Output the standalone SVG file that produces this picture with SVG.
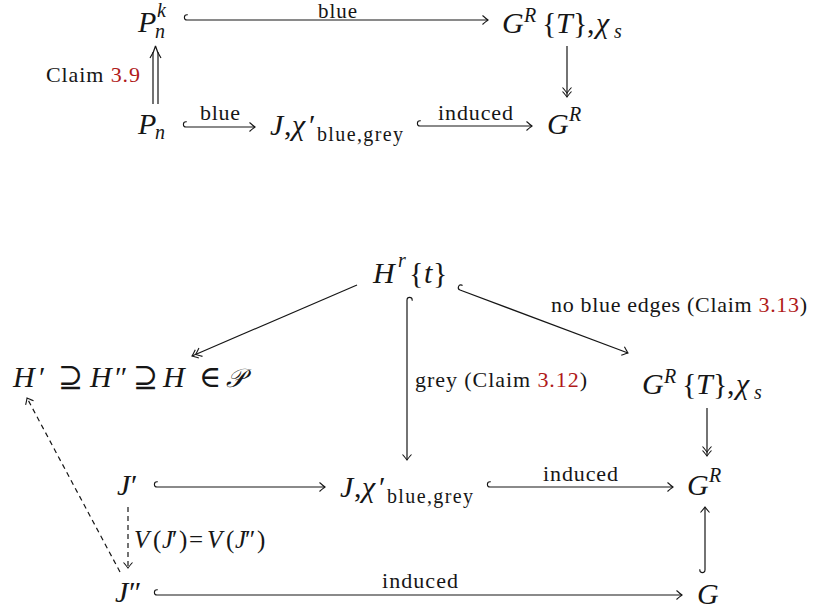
<svg xmlns="http://www.w3.org/2000/svg" width="817" height="613" viewBox="0 0 817 613">
<style>
text{font-family:"Liberation Serif","DejaVu Serif",serif;fill:#161616}
.m{font-style:italic;font-size:30px}
.u{font-style:normal;font-size:30px}
.s{font-style:italic;font-size:20px}
.su{font-style:normal;font-size:20px}
.l{font-size:22px}
.v{font-style:italic;font-size:25px}
.vu{font-style:normal;font-size:25px}
.red{fill:#b01a1a}
.e{fill:none;stroke:#161616;stroke-width:1.2}
.d{stroke-dasharray:5,4}
.to{marker-end:url(#to)}
.tt{marker-end:url(#tt)}
.hk{marker-start:url(#hook)}
</style>
<defs>
<marker id="to" viewBox="-8 -6 10 12" refX="0" refY="0" markerWidth="10" markerHeight="12" orient="auto" markerUnits="userSpaceOnUse">
<path d="M-5.5,-4.5 Q-1.5,-1 0,0 Q-1.5,1 -5.5,4.5" fill="none" stroke="#161616" stroke-width="1.1"/>
</marker>
<marker id="tt" viewBox="-12 -6 14 12" refX="0" refY="0" markerWidth="14" markerHeight="12" orient="auto" markerUnits="userSpaceOnUse">
<path d="M-5.5,-4.5 Q-1.5,-1 0,0 Q-1.5,1 -5.5,4.5 M-9.5,-4.5 Q-5.5,-1 -4,0 Q-5.5,1 -9.5,4.5" fill="none" stroke="#161616" stroke-width="1.1"/>
</marker>
<marker id="hook" viewBox="-5 -8 10 10" refX="0" refY="0" markerWidth="10" markerHeight="10" orient="auto" markerUnits="userSpaceOnUse">
<path d="M0,0 A2.6,2.6 0 0 1 0,-5.2 L0.8,-5.2" fill="none" stroke="#161616" stroke-width="1.1"/>
</marker>
</defs>

<!-- top diagram nodes -->
<g id="Pnk">
<text class="m" x="138" y="32">P</text>
<text class="s" x="157" y="17">k</text>
<text class="s" x="155" y="38">n</text>
</g>
<g id="GRT-top">
<text class="m" x="502" y="33">G</text>
<text class="s" x="524" y="22">R</text>
<text class="u" x="542" y="33">{</text>
<text class="m" x="556" y="33">T</text>
<text class="u" x="573" y="33">}</text>
<text class="u" x="587" y="33">,</text>
<text class="m" x="596" y="33">χ</text>
<text class="s" x="614" y="38">s</text>
</g>
<g id="Pn">
<text class="m" x="138" y="134">P</text>
<text class="s" x="155" y="139">n</text>
</g>
<g id="J-top">
<text class="m" x="270" y="135">J</text>
<text class="u" x="284" y="135">,</text>
<text class="m" x="292" y="135">χ</text>
<text class="u" x="309" y="135">′</text>
<text class="su" x="317" y="141" textLength="86" lengthAdjust="spacing">blue,grey</text>
</g>
<g id="GR-top">
<text class="m" x="547" y="134">G</text>
<text class="s" x="569" y="121">R</text>
</g>

<!-- bottom diagram nodes -->
<g id="Hrt">
<text class="m" x="373" y="283">H</text>
<text class="s" x="398" y="267">r</text>
<text class="u" x="409" y="283">{</text>
<text class="m" x="424" y="283">t</text>
<text class="u" x="433" y="283">}</text>
</g>
<g id="Hchain">
<text class="m" x="13" y="387">H</text>
<text class="u" x="39" y="387">′</text>
<text class="u" x="58" y="387">⊇</text>
<text class="m" x="90" y="387">H</text>
<text class="u" x="115" y="387">″</text>
<text class="u" x="133" y="387">⊇</text>
<text class="m" x="163" y="387">H</text>
<text class="u" x="199" y="387">∈</text>
<text x="226" y="387" style="font-family:'DejaVu Serif','Noto Sans',serif;font-size:26px;font-style:italic">𝒫</text>
</g>
<g id="GRT-bot">
<text class="m" x="642" y="394">G</text>
<text class="s" x="664" y="383">R</text>
<text class="u" x="682" y="394">{</text>
<text class="m" x="696" y="394">T</text>
<text class="u" x="713" y="394">}</text>
<text class="u" x="727" y="394">,</text>
<text class="m" x="736" y="394">χ</text>
<text class="s" x="754" y="399">s</text>
</g>
<g id="Jp">
<text class="m" x="117" y="495">J</text>
<text class="u" x="131" y="495">′</text>
</g>
<g id="J-bot">
<text class="m" x="340" y="497">J</text>
<text class="u" x="354" y="497">,</text>
<text class="m" x="362" y="497">χ</text>
<text class="u" x="379" y="497">′</text>
<text class="su" x="387" y="503" textLength="86" lengthAdjust="spacing">blue,grey</text>
</g>
<g id="GR-bot">
<text class="m" x="687" y="495">G</text>
<text class="s" x="709" y="482">R</text>
</g>
<g id="Jpp">
<text class="m" x="115" y="602">J</text>
<text class="u" x="129" y="602">″</text>
</g>
<g id="G">
<text class="m" x="697" y="604">G</text>
</g>

<!-- connectors -->
<g id="connectors">
<path class="e hk to" d="M187,20 H488"/>
<text class="l" x="318" y="18" style="font-size:21px" textLength="39" lengthAdjust="spacing">blue</text>

<path class="e" d="M153,104 V52 M158,104 V52"/>
<path class="e" d="M150,58 Q154,52 155.5,46 Q157,52 161,58"/>
<text class="l" x="46" y="82" textLength="94" lengthAdjust="spacing">Claim <tspan class="red">3.9</tspan></text>

<path class="e hk to" d="M186,127 H255"/>
<text class="l" x="200" y="120" textLength="40" lengthAdjust="spacing">blue</text>

<path class="e hk to" d="M420,126 H532"/>
<text class="l" x="438" y="120" textLength="75" lengthAdjust="spacing">induced</text>

<path class="e tt" d="M567,46 V97"/>

<path class="e tt" d="M357,285 L192,356"/>

<path class="e hk to" d="M407,300 V460"/>
<text class="l" x="415" y="387" textLength="172" lengthAdjust="spacing">grey (Claim <tspan class="red">3.12</tspan>)</text>

<path class="e hk to" d="M460,290 L628,353"/>
<text class="l" x="551" y="312" textLength="256" lengthAdjust="spacing">no blue edges (Claim <tspan class="red">3.13</tspan>)</text>

<path class="e tt" d="M707,408 V456"/>

<path class="e hk to" d="M157,487 H325"/>

<path class="e hk to" d="M490,487 H673"/>
<text class="l" x="543" y="481" textLength="75" lengthAdjust="spacing">induced</text>

<path class="e hk to" d="M705,570 V507"/>

<path class="e hk to" d="M157,595 H682"/>
<text class="l" x="382" y="588" textLength="76" lengthAdjust="spacing">induced</text>

<path class="e d to" d="M128,507 V568"/>
<g id="lbl-V">
<text class="v" x="134" y="548">V</text>
<text class="vu" x="153" y="548">(</text>
<text class="v" x="162" y="548">J</text>
<text class="vu" x="172" y="548">′</text>
<text class="vu" x="179" y="548">)</text>
<text class="vu" x="189" y="548">=</text>
<text class="v" x="207" y="548">V</text>
<text class="vu" x="226" y="548">(</text>
<text class="v" x="235" y="548">J</text>
<text class="vu" x="245" y="548">″</text>
<text class="vu" x="257" y="548">)</text>
</g>

<path class="e d to" d="M120,572 L27,398"/>
</g>
</svg>
